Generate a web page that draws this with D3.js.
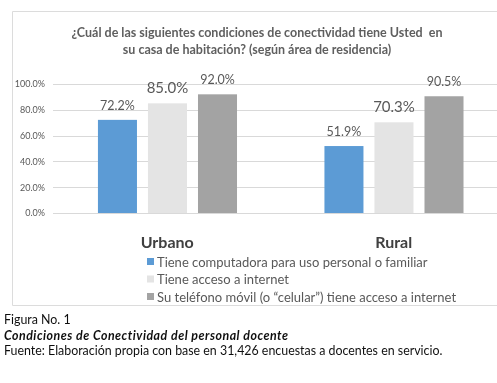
<!DOCTYPE html>
<html>
<head>
<meta charset="utf-8">
<script src="https://cdn.jsdelivr.net/npm/d3@7"></script>
<style>
  html, body { margin: 0; padding: 0; background: #fff; }
  svg { display: block; }
  text { white-space: pre; }
</style>
</head>
<body>
<svg id="chart" width="497" height="383"></svg>
<script>
// Connectivity conditions of teaching staff, by area of residence
const areas = ["Urbano", "Rural"];
const seriesNames = [
  "Tiene computadora para uso personal o familiar",
  "Tiene acceso a internet",
  "Su teléfono móvil (o \u201ccelular\u201d) tiene acceso a internet"
];
const urbanoValues = [0.722, 0.850, 0.920];
const ruralValues = [0.519, 0.703, 0.905];
const yTicks = [0, 0.2, 0.4, 0.6, 0.8, 1.0];
const titleLines = [
  "¿Cuál de las siguientes condiciones de conectividad tiene Usted  en",
  "su casa de habitación? (según área de residencia)"
];
const captionLines = [
  "Figura No. 1",
  "Condiciones de Conectividad del personal docente",
  "Fuente: Elaboración propia con base en 31,426 encuestas a docentes en servicio."
];

const valuesByArea = { "Urbano": urbanoValues, "Rural": ruralValues };
const colors = ["#5b9bd5", "#e4e4e4", "#a3a3a3"];
const labelSizes = [12.5, 15, 12.5];
const FONT = "Lato, 'Open Sans', sans-serif";

const svg = d3.select("#chart");

// slight softening of the whole drawing
svg.append("defs").append("filter")
  .attr("id", "soft")
  .append("feGaussianBlur")
  .attr("stdDeviation", 0.35);
const root = svg.append("g").attr("filter", "url(#soft)");

root.append("rect").attr("width", 497).attr("height", 383).attr("fill", "#fff");

// chart frame
root.append("path")
  .attr("d", "M510,11.5H12.5V305.5H510")
  .attr("fill", "none")
  .attr("stroke", "#dcdcdc")
  .attr("stroke-width", 1);

// title
root.append("g").selectAll("text")
  .data(titleLines)
  .join("text")
  .attr("x", 257)
  .attr("y", (d, i) => 37 + i * 17)
  .attr("text-anchor", "middle")
  .attr("font-family", FONT)
  .attr("font-weight", "bold")
  .attr("font-size", 12.5)
  .attr("fill", "#5f5f5f")
  .text(d => d);

// scales
const y = d3.scaleLinear().domain([0, 1]).range([213, 84]);
const x0 = d3.scaleBand().domain(areas).range([54, 507]);
const x1 = d3.scaleBand().domain(d3.range(seriesNames.length))
  .range([x0.bandwidth() * 0.194, x0.bandwidth() * 0.808])
  .paddingInner(0.22);

// gridlines + y axis
const yAxis = d3.axisLeft(y).tickValues(yTicks).tickFormat(d3.format(".1%"))
  .tickSize(0).tickPadding(8);
const gy = root.append("g").attr("transform", "translate(53,0)").call(yAxis);
gy.select(".domain").remove();
gy.selectAll("text")
  .attr("font-family", FONT)
  .attr("font-size", 9)
  .attr("fill", "#595959");
root.append("g").selectAll("line")
  .data(yTicks)
  .join("line")
  .attr("x1", 53).attr("x2", 497)
  .attr("y1", d => Math.round(y(d)) + 0.5)
  .attr("y2", d => Math.round(y(d)) + 0.5)
  .attr("stroke", "#d9d9d9")
  .attr("stroke-width", 1);

// bars
const groups = root.append("g").selectAll("g")
  .data(areas)
  .join("g")
  .attr("transform", d => `translate(${x0(d)},0)`);

groups.selectAll("rect")
  .data(a => valuesByArea[a].map((v, i) => ({ v, i })))
  .join("rect")
  .attr("x", d => x1(d.i))
  .attr("width", x1.bandwidth())
  .attr("y", d => y(d.v))
  .attr("height", d => y(0) - y(d.v))
  .attr("fill", d => colors[d.i]);

groups.selectAll("text.val")
  .data(a => valuesByArea[a].map((v, i) => ({ v, i })))
  .join("text")
  .attr("class", "val")
  .attr("x", d => x1(d.i) + x1.bandwidth() / 2)
  .attr("y", d => y(d.v) - 10)
  .attr("text-anchor", "middle")
  .attr("font-family", FONT)
  .attr("font-size", d => labelSizes[d.i])
  .attr("fill", "#595959")
  .text(d => d3.format(".1%")(d.v));

// category axis labels
root.append("g").selectAll("text")
  .data(areas)
  .join("text")
  .attr("x", d => x0(d) + x0.bandwidth() / 2)
  .attr("y", 248)
  .attr("text-anchor", "middle")
  .attr("font-family", FONT)
  .attr("font-weight", "bold")
  .attr("font-size", 16)
  .attr("fill", "#404040")
  .text(d => d);

// legend
const legend = root.append("g").attr("transform", "translate(147,0)");
const items = legend.selectAll("g")
  .data(seriesNames)
  .join("g")
  .attr("transform", (d, i) => `translate(0,${262 + i * 17.5})`);
items.append("rect")
  .attr("x", 0).attr("y", -4)
  .attr("width", 7).attr("height", 7)
  .attr("fill", (d, i) => colors[i]);
items.append("text")
  .attr("x", 10)
  .attr("y", 0)
  .attr("dy", "0.35em")
  .attr("font-family", FONT)
  .attr("font-size", 13)
  .attr("fill", "#595959")
  .text(d => d);

// figure caption
root.append("g").selectAll("text")
  .data(captionLines)
  .join("text")
  .attr("x", 4)
  .attr("y", (d, i) => 324 + i * 15.5)
  .attr("font-family", FONT)
  .attr("font-size", 12.4)
  .attr("font-style", (d, i) => i === 1 ? "italic" : "normal")
  .attr("font-weight", (d, i) => i === 1 ? "bold" : "normal")
  .attr("letter-spacing", (d, i) => i === 1 ? 0.5 : 0)
  .attr("fill", "#111")
  .text(d => d);
</script>
</body>
</html>
